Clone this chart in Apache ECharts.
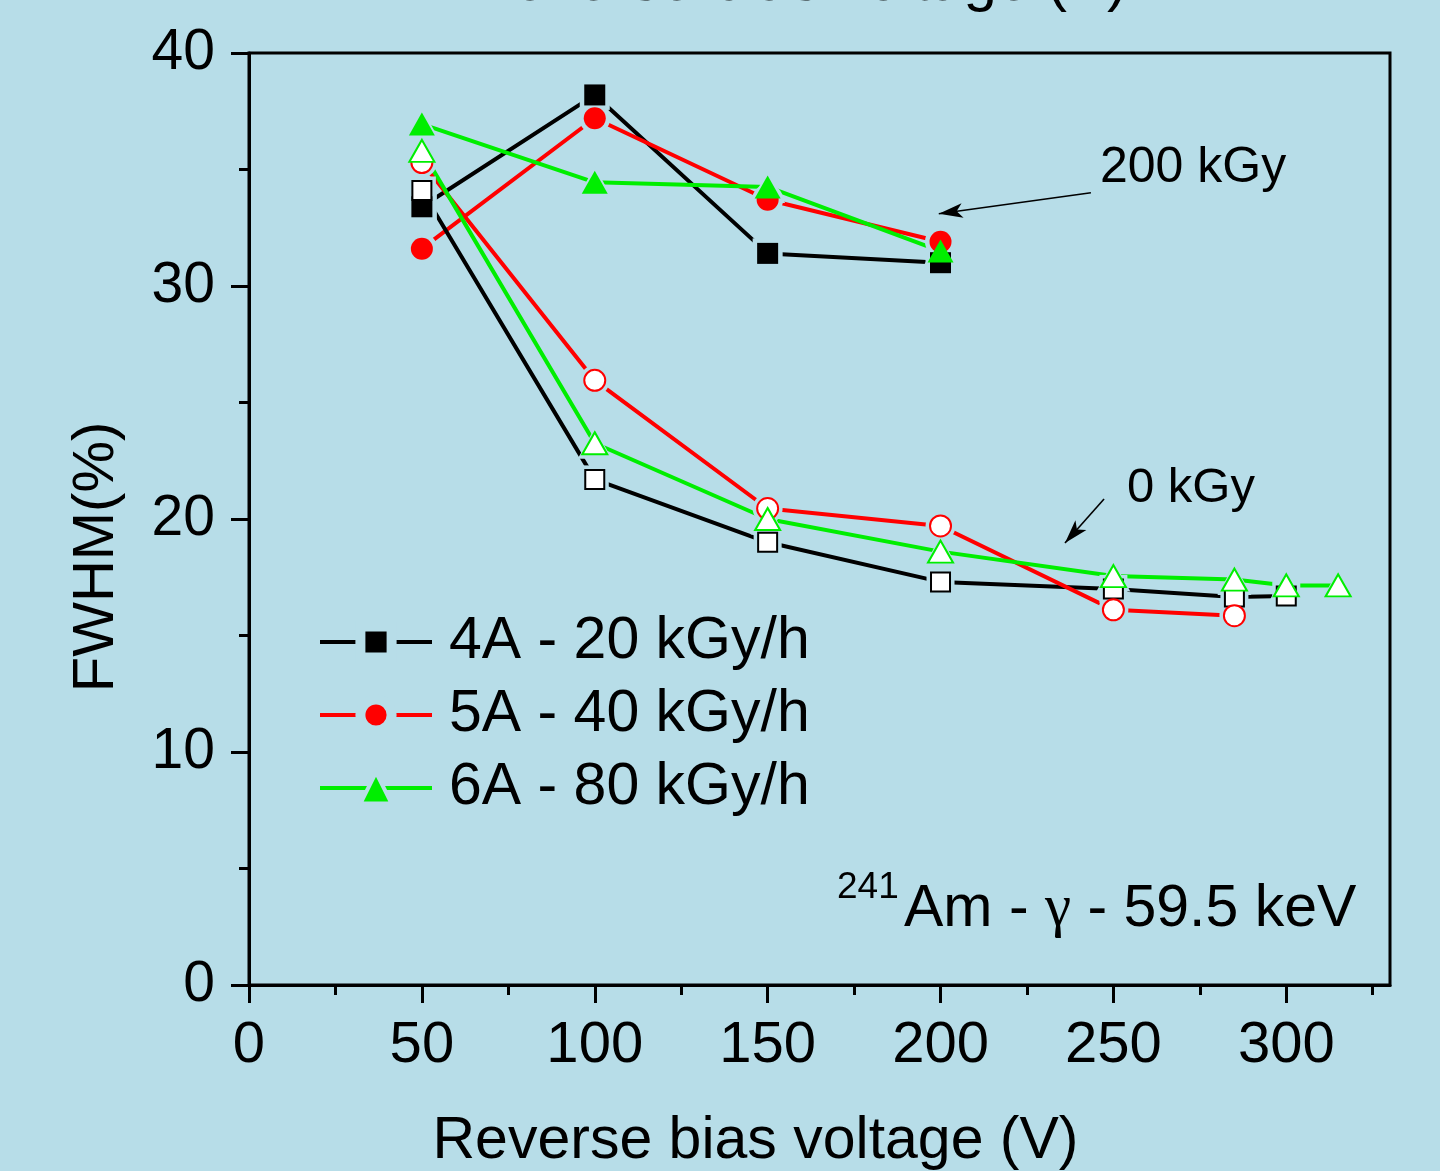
<!DOCTYPE html>
<html>
<head>
<meta charset="utf-8">
<title>FWHM vs reverse bias voltage</title>
<script src="https://cdn.jsdelivr.net/npm/echarts@6/dist/echarts.min.js"></script>
<style>
  html, body { margin: 0; padding: 0; background: #b7dde8; }
  #chart { width: 1440px; height: 1171px; }
</style>
</head>
<body>
<div id="chart"></div>
<script>
// Reverse bias voltages (V) and FWHM (%) for each detector
const voltagesIrradiated = [50, 100, 150, 200];
const fwhm4A_200kGy = [33.4, 38.2, 31.4, 31.0];
const fwhm5A_200kGy = [31.6, 37.2, 33.7, 31.9];
const fwhm6A_200kGy = [36.95, 34.45, 34.25, 31.5];

const voltages4A_0kGy = [50, 100, 150, 200, 250, 285, 300];
const fwhm4A_0kGy = [34.1, 21.7, 19.0, 17.3, 17.0, 16.65, 16.7];
const voltages5A_0kGy = [50, 100, 150, 200, 250, 285];
const fwhm5A_0kGy = [35.3, 25.95, 20.45, 19.7, 16.1, 15.85];
const voltages6A_0kGy = [50, 100, 150, 200, 250, 285, 300, 315];
const fwhm6A_0kGy = [35.8, 23.25, 20.0, 18.6, 17.55, 17.4, 17.15, 17.15];

const seriesNames = ['4A - 20 kGy/h', '5A - 40 kGy/h', '6A - 80 kGy/h'];
const xMajorTicks = [0, 50, 100, 150, 200, 250, 300];
const xMinorTicks = [25, 75, 125, 175, 225, 275, 325];

const BG = '#b7dde8';
const BLACK = '#000000';
const RED = '#ff0000';
const GREEN = '#00ee00';
const FONT = '"Liberation Sans", Arial, sans-serif';
const LINE_W = 4;
const GAP = 9;   // clear space left around each marker on its own line

function pairs(xs, ys) { return xs.map((x, i) => [x, ys[i]]); }
function grow(size, d) { return Array.isArray(size) ? [size[0] + d, size[1] + d] : size + d; }

// Connecting line; its symbols are background-coloured pads that open a small gap around each marker
function curve(name, xs, ys, color, symbol, size) {
  return {
    name: name, type: 'line', xAxisIndex: 0, yAxisIndex: 0, z: 2,
    data: pairs(xs, ys),
    symbol: symbol, symbolSize: grow(size, GAP),
    lineStyle: { color: color, width: LINE_W },
    itemStyle: { color: BG, borderWidth: 0 },
    emphasis: { disabled: true },
    animation: false
  };
}

// Markers drawn on top of every line
function markers(name, xs, ys, color, symbol, size, open) {
  return {
    name: name, type: 'scatter', xAxisIndex: 0, yAxisIndex: 0, z: 3,
    data: pairs(xs, ys),
    symbol: symbol, symbolSize: size,
    itemStyle: open
      ? { color: '#ffffff', borderColor: color, borderWidth: 2, opacity: 1 }
      : { color: color, borderWidth: 0, opacity: 1 },
    emphasis: { disabled: true },
    animation: false
  };
}

const SQ = 21, CI = 22, TRI = [26, 23];
const SQ_O = 19, CI_O = 21, TRI_O = [25, 22];

const series = [
  curve(seriesNames[0], voltagesIrradiated, fwhm4A_200kGy, BLACK, 'rect', SQ),
  curve(seriesNames[1], voltagesIrradiated, fwhm5A_200kGy, RED, 'circle', CI),
  curve(seriesNames[2], voltagesIrradiated, fwhm6A_200kGy, GREEN, 'triangle', TRI),
  curve('4A 0 kGy', voltages4A_0kGy, fwhm4A_0kGy, BLACK, 'rect', SQ_O),
  curve('5A 0 kGy', voltages5A_0kGy, fwhm5A_0kGy, RED, 'circle', CI_O),
  curve('6A 0 kGy', voltages6A_0kGy, fwhm6A_0kGy, GREEN, 'triangle', TRI_O),
  markers('4A 200 kGy pts', voltagesIrradiated, fwhm4A_200kGy, BLACK, 'rect', SQ, false),
  markers('5A 200 kGy pts', voltagesIrradiated, fwhm5A_200kGy, RED, 'circle', CI, false),
  markers('6A 200 kGy pts', voltagesIrradiated, fwhm6A_200kGy, GREEN, 'triangle', TRI, false),
  markers('4A 0 kGy pts', voltages4A_0kGy, fwhm4A_0kGy, BLACK, 'rect', SQ_O, true),
  markers('5A 0 kGy pts', voltages5A_0kGy, fwhm5A_0kGy, RED, 'circle', CI_O, true),
  markers('6A 0 kGy pts', voltages6A_0kGy, fwhm6A_0kGy, GREEN, 'triangle', TRI_O, true)
];

// Arrows pointing at the two groups of curves
series.push({
  type: 'line', name: 'arrows', data: [], xAxisIndex: 0, yAxisIndex: 0, z: 4,
  markLine: {
    silent: true, animation: false,
    symbol: ['none', 'arrow'], symbolSize: [11, 24],
    label: { show: false },
    lineStyle: { color: BLACK, width: 1.6, type: 'solid' },
    data: [
      [{ coord: [243.5, 34.0] }, { coord: [199.5, 33.1] }],
      [{ coord: [247.3, 20.86] }, { coord: [236.0, 18.97] }]
    ]
  }
});

const legendColors = [BLACK, RED, GREEN];
const legendPad = [10, 10, 4];   // background rim around each legend marker

const chart = echarts.init(document.getElementById('chart'), null, { renderer: 'canvas' });

chart.setOption({
  backgroundColor: BG,
  animation: false,
  grid: {
    left: 249, right: 50, top: 53, bottom: 186,
    outerBoundsMode: 'none',
    show: true, borderColor: BLACK, borderWidth: 3, backgroundColor: 'transparent'
  },
  legend: {
    data: seriesNames.map((n, i) => ({
      name: n,
      itemStyle: { color: legendColors[i], borderColor: BG, borderWidth: legendPad[i] }
    })),
    orient: 'vertical',
    left: 313, top: 607,
    itemWidth: 112, itemHeight: 39, itemGap: 13,
    selectedMode: false,
    lineStyle: { width: LINE_W },
    textStyle: { fontFamily: FONT, fontSize: 59, color: BLACK, lineHeight: 60, padding: [0, 0, 0, 12] }
  },
  xAxis: [
    {
      type: 'value', min: 0, max: 330,
      name: 'Reverse bias voltage (V)', nameLocation: 'middle', nameGap: 127,
      nameTextStyle: { fontFamily: FONT, fontSize: 59, color: BLACK, padding: [0, 128, 0, 0] },
      axisLine: { show: true, onZero: false, lineStyle: { color: BLACK, width: 3 } },
      axisTick: { show: true, inside: false, length: 18, lineStyle: { color: BLACK, width: 3 }, customValues: xMajorTicks },
      axisLabel: { show: true, margin: 32, fontFamily: FONT, fontSize: 58, color: BLACK, customValues: xMajorTicks },
      splitLine: { show: false }
    },
    {
      type: 'value', min: 0, max: 330, position: 'bottom',
      axisLine: { show: false },
      axisTick: { show: true, inside: false, length: 10, lineStyle: { color: BLACK, width: 3 }, customValues: xMinorTicks },
      axisLabel: { show: false },
      splitLine: { show: false }
    }
  ],
  yAxis: {
    type: 'value', min: 0, max: 40, interval: 10,
    name: 'FWHM(%)', nameLocation: 'middle', nameGap: 123, nameRotate: 90,
    nameTextStyle: { fontFamily: FONT, fontSize: 58, color: BLACK, padding: [0, 76, 0, 0] },
    axisLine: { show: true, onZero: false, lineStyle: { color: BLACK, width: 3 } },
    axisTick: { show: true, inside: false, length: 18, lineStyle: { color: BLACK, width: 3 } },
    minorTick: { show: true, splitNumber: 2, length: 10, lineStyle: { color: BLACK, width: 3 } },
    axisLabel: { show: true, margin: 34, fontFamily: FONT, fontSize: 57, color: BLACK },
    splitLine: { show: false }
  },
  graphic: [
    {
      type: 'text', left: 1100, top: 143, silent: true,
      style: { text: '200 kGy', fontFamily: FONT, fontSize: 50, fill: BLACK }
    },
    {
      type: 'text', left: 1127, top: 464, silent: true,
      style: { text: '0 kGy', fontFamily: FONT, fontSize: 49, fill: BLACK }
    },
    {
      type: 'text', left: 837, top: 869, silent: true,
      style: { text: '241', fontFamily: FONT, fontSize: 37, fill: BLACK }
    },
    {
      type: 'text', left: 904, top: 880, silent: true,
      style: {
        text: '{a|Am - }{g|γ}{a| - 59.5 keV}',
        rich: {
          a: { fontFamily: FONT, fontSize: 59, fill: BLACK, color: BLACK, lineHeight: 64 },
          g: { fontFamily: '"Liberation Serif", "Times New Roman", serif', fontSize: 59, fill: BLACK, color: BLACK, lineHeight: 64 }
        }
      }
    },
    {
      type: 'text', left: 470, top: -47, silent: true,
      style: { text: 'Reverse bias voltage (V)', fontFamily: FONT, fontSize: 60, fill: BLACK }
    }
  ],
  series: series
});
</script>
</body>
</html>
